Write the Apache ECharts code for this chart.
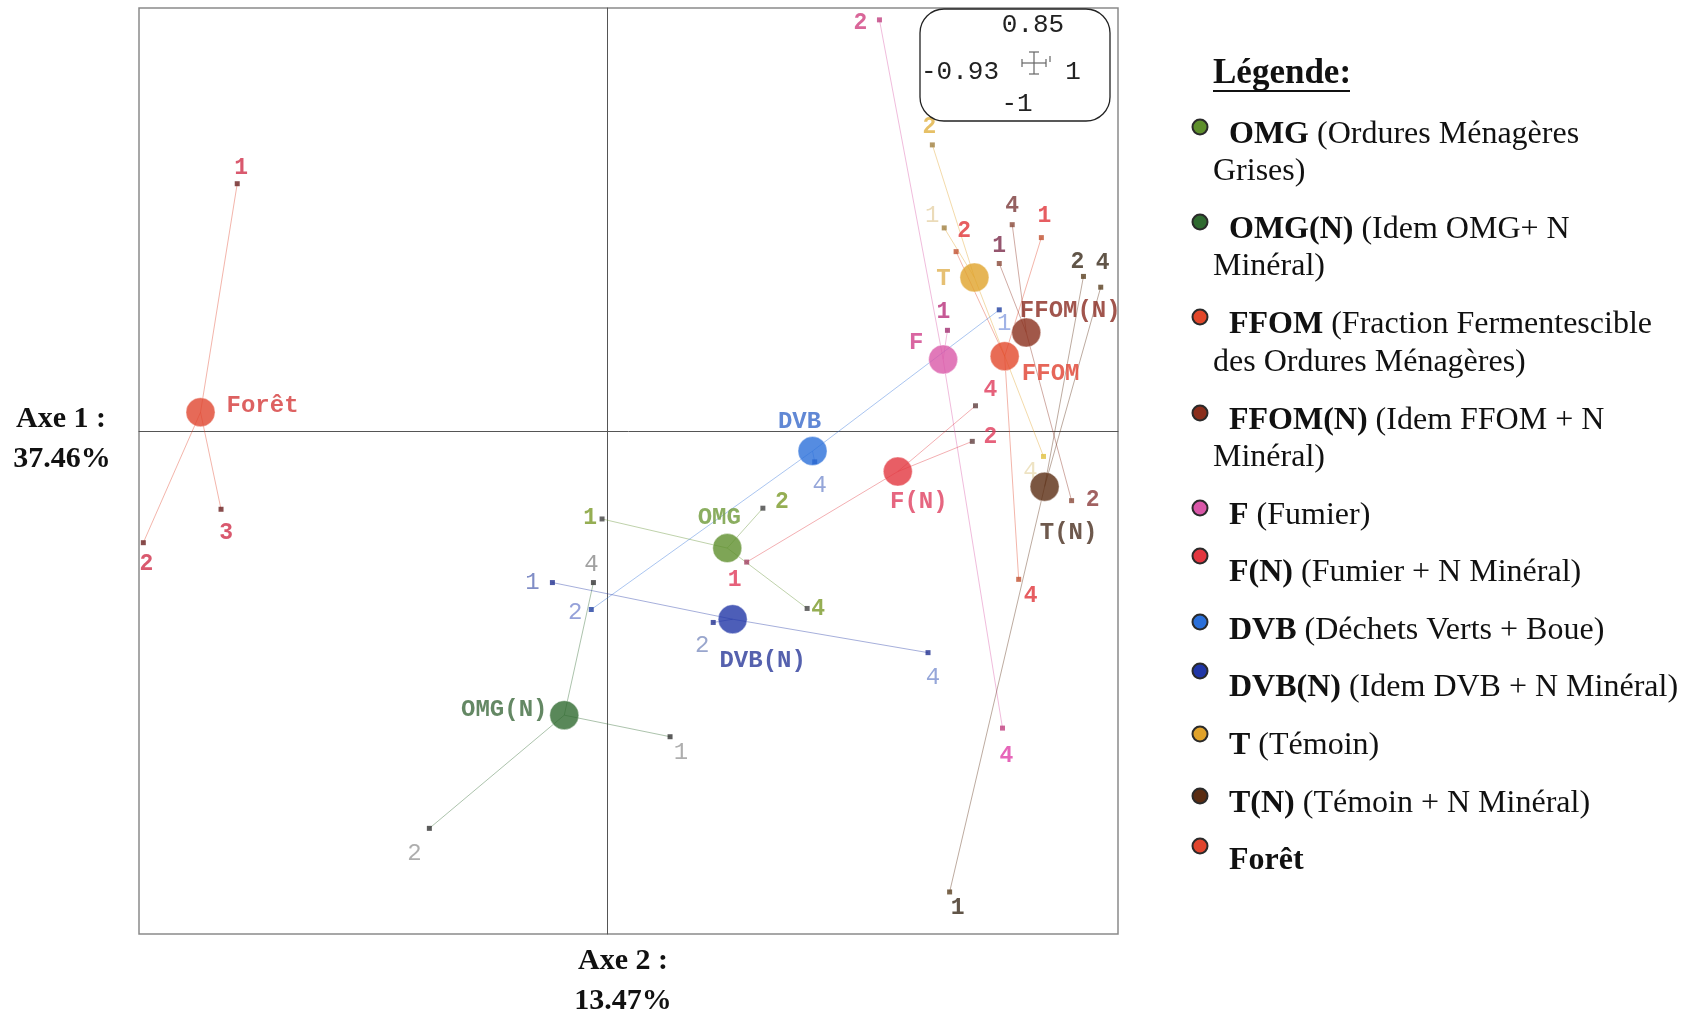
<!DOCTYPE html>
<html>
<head>
<meta charset="utf-8">
<script src="https://cdn.jsdelivr.net/npm/echarts@6/dist/echarts.min.js"></script>
<style>html,body{margin:0;padding:0;background:#fff}#c{width:1692px;height:1017px}</style>
</head>
<body>
<div id="c"></div>
<script>
// ---- DATA ----
const groups = ['OMG','OMG(N)','FFOM','FFOM(N)','F','F(N)','DVB','DVB(N)','T','T(N)','Forêt'];
const centroidX = [1.11,-0.40,3.68,3.88,3.11,2.69,1.90,1.16,3.40,4.05,-3.77];
const centroidY = [-1.08,-2.63,0.70,0.92,0.67,-0.37,-0.18,-1.74,1.43,-0.51,0.18];
const pointGroup = [0,0,0, 1,1,1, 2,2,2, 3,3,3, 4,4,4, 5,5,5, 6,6,6, 7,7,7, 8,8,8, 9,9,9, 10,10,10];
const pointNum   = ['1','2','4', '4','1','2', '1','2','4', '1','4','2', '1','2','4', '1','2','4', '1','2','4', '1','2','4', '1','2','4', '2','4','1', '1','2','3'];
const pointX = [-0.05,1.44,1.85, -0.13,0.58,-1.65, 4.02,3.23,3.81, 3.63,3.75,4.30, 3.15,2.52,3.66, 1.29,3.38,3.41, 3.63,-0.15,1.92, -0.51,0.98,2.97, 3.12,3.01,4.04, 4.41,4.57,3.17, -3.43,-4.30,-3.58];
const pointY = [-0.81,-0.71,-1.64, -1.40,-2.83,-3.68, 1.80,1.67,-1.37, 1.56,1.92,-0.64, 0.94,3.82,-2.75, -1.21,-0.09,0.24, 1.13,-1.65,-0.28, -1.40,-1.77,-2.05, 1.89,2.66,-0.23, 1.44,1.34,-4.27, 2.30,-1.03,-0.72];
const axisTitle1 = ['Axe 1 :','37.46%'];
const axisTitle2 = ['Axe 2 :','13.47%'];
const insetLabels = ['0.85','-0.93','1','-1'];
const legendTitle = 'Légende';
const legendBold = ['OMG','OMG(N)','FFOM','FFOM(N)','F','F(N)','DVB','DVB(N)','T','T(N)','Forêt'];
const legendLine1 = [' (Ordures Ménagères',' (Idem OMG+ N',' (Fraction Fermentescible',' (Idem FFOM + N',' (Fumier)',' (Fumier + N Minéral)',' (Déchets Verts + Boue)',' (Idem DVB + N Minéral)',' (Témoin)',' (Témoin + N Minéral)',''];
const legendLine2 = ['Grises)','Minéral)','des Ordures Ménagères)','Minéral)','','','','','','',''];

// ---- STYLES ----
const groupColor = ['#5e8f2c','#2f6a30','#e2472a','#8a2e1c','#d957a8','#e2363f','#2a6fd9','#2036a6','#e0a22a','#5a2c12','#e0452e'];
const groupLabelColor = ['#6e9a38','#3d6a3d','#e04030','#8a2a20','#d0408a','#e04060','#3a6acb','#2a3a9a','#e0b050','#4a3020','#d43a3a'];
const pointColor = ['#444','#444','#444','#333','#333','#333','#c05030','#c05030','#c05030','#8a4a3a','#8a4a3a','#8a4a3a','#a03070','#c04080','#c04080','#a04060','#604040','#604040','#2040a0','#2040a0','#2040a0','#203090','#203090','#203090','#a08040','#a08040','#e0c040','#5a4020','#5a4020','#5a4020','#6a2020','#6a2020','#6a2020'];
const centroidLabelOffset = [[-8,-30],[-60,-5],[46,18],[44,-22],[-27,-16],[21,30],[-13,-29],[30,42],[-31,1],[24,46],[62,-6]];
const ptLabelOffset = [[-12,-1],[19,-6],[11,1],[-2,-18],[11,16],[-15,25],[3,-21],[8,-20],[12,17],[0,-17],[0,-18],[21,0],[-4,-18],[-19,3],[4,28],[-12,18],[18,-4],[15,-16],[5,14],[-16,3],[5,24],[-20,0],[-11,23],[5,25],[-12,-12],[-3,-18],[-13,15],[-6,-14],[2,-24],[8,16],[4,-16],[3,22],[5,24]];
const ptLabelColor = ['#7a9a28','#7a9a28','#7a9a28','#8a8a8a','#9a9a9a','#9a9a9a','#e0343a','#e0343a','#e0343a','#7a2a4a','#7a3a3a','#8a3a3a','#b8307a','#d04080','#e040a8','#e03a5a','#e03a5a','#e03a5a','#8aa0e0','#7a8ad0','#7a90d0','#6070b8','#8090c0','#7a90d0','#e6d2a8','#e0b040','#eadcb4','#3a2a1a','#3a2a1a','#3a2a1a','#d0304a','#d0304a','#d0304a'];
const ptLabelBold = [1,1,1,0,0,0,1,1,1,1,1,1,1,1,1,1,1,1,0,0,0,0,0,0,0,1,0,1,1,1,1,1,1];
const legendY = [[127,135,172],[222,230,267],[317,325,363],[413,421,458],[508,516],[556,573],[622,631],[671,688],[734,746],[796,804],[846,861]];

const chart = echarts.init(document.getElementById('c'), null, {renderer:'canvas'});

const lineData = pointX.map((x,i)=>{
  const g = pointGroup[i];
  return {coords:[[centroidX[g],centroidY[g]],[x,pointY[i]]], lineStyle:{color:groupColor[g]}};
});
const pointData = pointX.map((x,i)=>({
  value:[x,pointY[i]],
  itemStyle:{color:pointColor[i]},
  label:{show:true,formatter:pointNum[i],position:'inside',offset:ptLabelOffset[i],color:ptLabelColor[i],
    fontFamily:'Liberation Mono',
    fontWeight: ptLabelBold[i] ? 'bold':'normal', fontSize: ptLabelBold[i] ? 23 : 24}
}));
const centroidData = centroidX.map((x,i)=>({
  value:[x,centroidY[i]], name:groups[i],
  itemStyle:{color:groupColor[i], borderColor:'rgba(255,255,255,0.5)', borderWidth:1},
  label:{show:true,formatter:groups[i],position:'inside',offset:centroidLabelOffset[i],color:groupLabelColor[i],
    fontFamily:'Liberation Mono',fontWeight:'bold',fontSize:24}
}));

const graphics = [];
// axis titles
const tf = 'bold 30px "Liberation Serif"';
graphics.push({type:'text',x:61,y:419,style:{text:axisTitle1[0],font:tf,fill:'#111',align:'center',verticalAlign:'middle'}});
graphics.push({type:'text',x:62,y:459,style:{text:axisTitle1[1],font:tf,fill:'#111',align:'center',verticalAlign:'middle'}});
graphics.push({type:'text',x:623,y:961,style:{text:axisTitle2[0],font:tf,fill:'#111',align:'center',verticalAlign:'middle'}});
graphics.push({type:'text',x:623,y:1001,style:{text:axisTitle2[1],font:tf,fill:'#111',align:'center',verticalAlign:'middle'}});
// inset box
graphics.push({type:'rect',shape:{x:920,y:9,width:190,height:112,r:24},style:{fill:'#fff',stroke:'#222',lineWidth:1.3},z:50});
const inf = '26px "Liberation Mono"';
graphics.push({type:'text',x:1033,y:25,style:{text:insetLabels[0],font:inf,fill:'#222',align:'center',verticalAlign:'middle'},z:51});
graphics.push({type:'text',x:960,y:72,style:{text:insetLabels[1],font:inf,fill:'#222',align:'center',verticalAlign:'middle'},z:51});
graphics.push({type:'text',x:1073,y:72,style:{text:insetLabels[2],font:inf,fill:'#222',align:'center',verticalAlign:'middle'},z:51});
graphics.push({type:'text',x:1017,y:104,style:{text:insetLabels[3],font:inf,fill:'#222',align:'center',verticalAlign:'middle'},z:51});
const crossSegs = [[1034,52,1034,74],[1029,52,1039,52],[1029,74,1039,74],[1022,63,1046,63],[1022,59,1022,67],[1046,59,1046,67],[1050,56,1050,62]];
crossSegs.forEach(s=>graphics.push({type:'line',shape:{x1:s[0],y1:s[1],x2:s[2],y2:s[3]},style:{stroke:'#666',lineWidth:1.2},z:51}));
// legend
graphics.push({type:'text',x:1213,y:74,style:{text:legendTitle+':',font:'bold 35px "Liberation Serif"',fill:'#111',verticalAlign:'middle'}});
graphics.push({type:'line',shape:{x1:1213,y1:91,x2:1350,y2:91},style:{stroke:'#111',lineWidth:2}});
const lf = 32;
legendBold.forEach((b,i)=>{
  const ys = legendY[i];
  graphics.push({type:'circle',shape:{cx:1200,cy:ys[0],r:7.5},style:{fill:groupColor[i],stroke:'#2a2a2a',lineWidth:2}});
  graphics.push({type:'text',x:1229,y:ys[1],style:{text:'{b|'+b+'}{n|'+legendLine1[i]+'}',verticalAlign:'middle',
    rich:{b:{fontFamily:'Liberation Serif',fontSize:lf,fontWeight:'bold',fill:'#111'},n:{fontFamily:'Liberation Serif',fontSize:lf,fill:'#111'}}}});
  if (legendLine2[i]) {
    graphics.push({type:'text',x:1213,y:ys[2],style:{text:legendLine2[i],font:lf+'px "Liberation Serif"',fill:'#111',verticalAlign:'middle'}});
  }
});

const option = {
  animation:false,
  backgroundColor:'#fff',
  grid:{left:139,top:8,width:979,height:926,show:true,borderColor:'#8a8a8a',borderWidth:1.5,backgroundColor:'transparent'},
  xAxis:{type:'value',min:-4.34,max:4.73,axisLine:{show:true,onZero:true,lineStyle:{color:'#555',width:1}},axisTick:{show:false},axisLabel:{show:false},splitLine:{show:false}},
  yAxis:{type:'value',min:-4.66,max:3.93,axisLine:{show:true,onZero:true,lineStyle:{color:'#555',width:1}},axisTick:{show:false},axisLabel:{show:false},splitLine:{show:false}},
  series:[
    {type:'lines',coordinateSystem:'cartesian2d',data:lineData,lineStyle:{width:1,opacity:0.4},silent:true,z:2},
    {type:'scatter',data:pointData,symbol:'rect',symbolSize:5,z:3,silent:true},
    {type:'scatter',data:centroidData,symbol:'circle',symbolSize:29,z:4,silent:true}
  ],
  graphic:graphics
};
chart.setOption(option);
</script>
</body>
</html>
